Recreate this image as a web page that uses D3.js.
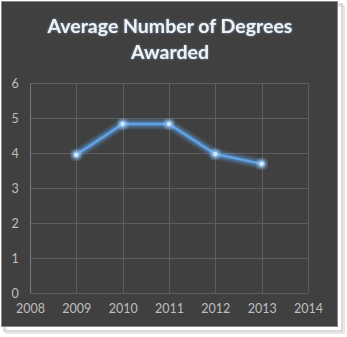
<!DOCTYPE html>
<html><head><meta charset="utf-8">
<script src="https://cdn.jsdelivr.net/npm/d3@7"></script>
<style>html,body{margin:0;padding:0;background:#fff;}svg{display:block;}</style>
</head><body>
<script>
const years = [2009, 2010, 2011, 2012, 2013];
const values = [3.95, 4.83, 4.83, 3.97, 3.69];
const xTicks = [2008, 2009, 2010, 2011, 2012, 2013, 2014];
const yTicks = [0, 1, 2, 3, 4, 5, 6];
const titleLines = ["Average Number of Degrees", "Awarded"];

const W = 347, H = 337;
const svg = d3.select("body").append("svg").attr("width", W).attr("height", H);
const defs = svg.append("defs");
const glow = defs.append("filter").attr("id","glow").attr("x","-50%").attr("y","-50%").attr("width","200%").attr("height","200%");
glow.append("feGaussianBlur").attr("in","SourceGraphic").attr("stdDeviation",2.4).attr("result","b");
const gm = glow.append("feMerge");
gm.append("feMergeNode").attr("in","b");
gm.append("feMergeNode").attr("in","b");
gm.append("feMergeNode").attr("in","SourceGraphic");
const tglow = defs.append("filter").attr("id","tglow").attr("x","-20%").attr("y","-50%").attr("width","140%").attr("height","200%");
tglow.append("feGaussianBlur").attr("in","SourceAlpha").attr("stdDeviation",0.8).attr("result","a");
tglow.append("feFlood").attr("flood-color","#7fb3e0").attr("flood-opacity",0.8).attr("result","c");
tglow.append("feComposite").attr("in","c").attr("in2","a").attr("operator","in").attr("result","s");
const tm = tglow.append("feMerge");
tm.append("feMergeNode").attr("in","s");
tm.append("feMergeNode").attr("in","SourceGraphic");

// shadow frame lines
svg.append("rect").attr("x",4).attr("y",4).attr("width",338).attr("height",327).attr("fill","none").attr("stroke","#b8b8b8").attr("stroke-width",1);
svg.append("rect").attr("x",6).attr("y",6).attr("width",338).attr("height",327).attr("fill","none").attr("stroke","#d0d0d0").attr("stroke-width",1);
// chart background
svg.append("rect").attr("x",1.5).attr("y",1.5).attr("width",336).attr("height",325).attr("fill","#404040").attr("stroke","#8a8a8a").attr("stroke-width",1);

const x = d3.scaleLinear().domain([2008, 2014]).range([30, 308]);
const y = d3.scaleLinear().domain([0, 6]).range([293, 83]);

// gridlines
const g = svg.append("g");
g.selectAll(".hg").data(yTicks).join("line")
  .attr("x1", x(2008)).attr("x2", x(2014))
  .attr("y1", d => Math.round(y(d)) + 0.5).attr("y2", d => Math.round(y(d)) + 0.5)
  .attr("stroke", "#5e5e5e").attr("stroke-width", 1);
g.selectAll(".vg").data(xTicks).join("line")
  .attr("x1", d => Math.round(x(d)) + 0.5).attr("x2", d => Math.round(x(d)) + 0.5)
  .attr("y1", y(6)).attr("y2", y(0))
  .attr("stroke", d => d === 2008 ? "#7a7a7a" : "#5e5e5e").attr("stroke-width", 1);

// axes labels
const yAxis = d3.axisLeft(y).tickValues(yTicks).tickSize(0).tickPadding(0).tickFormat(d3.format("d"));
const ya = svg.append("g").attr("transform", "translate(15,0)").call(yAxis);
ya.select(".domain").remove();
ya.selectAll("text").attr("fill", "#bfbfbf").attr("font-family", "Lato, 'Open Sans', sans-serif").attr("font-size", 12.5).attr("text-anchor","middle").attr("dy","0.35em");

const xAxis = d3.axisBottom(x).tickValues(xTicks).tickSize(0).tickPadding(0).tickFormat(d3.format("d"));
const xa = svg.append("g").attr("transform", "translate(0,304)").call(xAxis);
xa.select(".domain").remove();
xa.selectAll("text").attr("fill", "#bfbfbf").attr("font-family", "Lato, 'Open Sans', sans-serif").attr("font-size", 12.5).attr("dy","0.71em");

// line
const line = d3.line().x((d,i) => x(years[i])).y(d => y(d));
svg.append("path").datum(values).attr("d", line)
  .attr("fill","none").attr("stroke","#5ea2e6").attr("stroke-width",2.5).attr("filter","url(#glow)");
svg.selectAll(".pt").data(values).join("circle")
  .attr("cx",(d,i)=>x(years[i])).attr("cy",d=>y(d)).attr("r",2.8)
  .attr("fill","#d6e8fa").attr("stroke","#6aaef0").attr("stroke-width",1).attr("filter","url(#glow)");

// title
svg.append("g").attr("filter","url(#tglow)").selectAll("text").data(titleLines).join("text")
  .attr("x", 170).attr("y", (d,i) => 33 + i*26)
  .attr("text-anchor","middle")
  .attr("font-family","Lato, 'Open Sans', sans-serif").attr("font-weight","bold").attr("font-size",19.5)
  .attr("fill","#f2f2f2").text(d=>d);
</script>
</body></html>
